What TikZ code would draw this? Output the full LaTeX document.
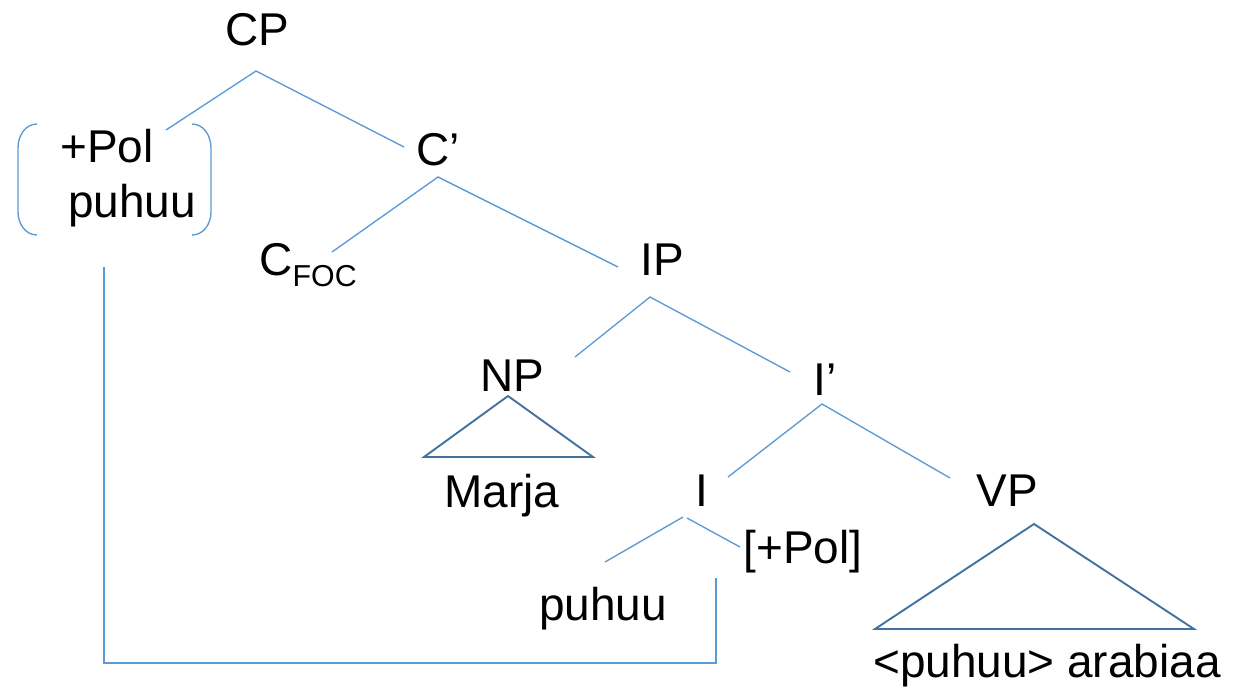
\documentclass[tikz,border=0pt]{standalone}
\usepackage{fontspec}
\setmainfont{Liberation Sans}
\usepackage{tikz}
\usetikzlibrary{calc}
\definecolor{branchblue}{RGB}{91,155,213}
\definecolor{roofblue}{RGB}{65,113,156}

\tikzset{
  lbl/.style={anchor=base, inner sep=0pt, font=\fontsize{17}{20}\selectfont},
  branch/.style={branchblue, line width=0.5pt},
  roof/.style={roofblue, line width=0.7pt, line join=miter},
  move/.style={branchblue, line width=0.6pt}
}

\begin{document}
\begin{tikzpicture}[x=0.013cm, y=-0.013cm]
  \useasboundingbox (0,0) rectangle (1238,691);

  % --- labels ---
  \node[lbl] (cp)     at (257,45)  {CP};
  \node[lbl] (pol)    at (107,162) {+Pol};
  \node[lbl] (puhu1)  at (132,217) {puhuu};
  \node[lbl] (cbar)   at (438,165) {C’};
  \node[lbl, anchor=base west] (cfoc) at (259,275)
    {C{\fontsize{11.2}{13}\selectfont\raisebox{-4.4pt}{FOC}}};
  \node[lbl] (ip)     at (662,275) {IP};
  \node[lbl] (np)     at (512,391) {NP};
  \node[lbl] (ibar)   at (825,395) {I’};
  \node[lbl] (marja)  at (502,507) {Marja};
  \node[lbl] (infl)   at (702,506) {I};
  \node[lbl] (vp)     at (1007,506) {VP};
  \node[lbl] (pol2)   at (803,563) {[+Pol]};
  \node[lbl] (puhu2)  at (603,620) {puhuu};
  \node[lbl] (vpword) at (1047,677) {<puhuu> arabiaa};

  % --- branches ---
  \draw[branch] ($(pol.base)+(59,-32)$) -- ($(cp.base)+(-1,26)$) -- ($(cbar.base)+(-34,-18)$);
  \draw[branch] ($(cfoc.base west)+(73,-23)$) -- ($(cbar.base)+(0,12)$) -- ($(ip.base)+(-44,-8)$);
  \draw[branch] ($(np.base)+(63,-34)$) -- ($(ip.base)+(-12,22)$) -- ($(ibar.base)+(-35,-23)$);
  \draw[branch] ($(infl.base)+(26,-29)$) -- ($(ibar.base)+(-3,9)$) -- ($(vp.base)+(-57,-28)$);
  \draw[branch] ($(puhu2.base)+(2,-58)$) -- ($(infl.base)+(-19,11)$);
  \draw[branch] ($(infl.base)+(-15,12)$) -- ($(pol2.base)+(-63,-16)$);

  % --- triangles ---
  \draw[roof] ($(np.base)+(-4,5)$) -- ($(np.base)+(-88,66)$) -- ($(np.base)+(81,66)$) -- cycle;
  \draw[roof] ($(vp.base)+(27,18)$) -- ($(vp.base)+(-132,123)$) -- ($(vp.base)+(187,123)$) -- cycle;

  % --- feature bracket ---
  \draw[branch] (37,124) to[out=180,in=90] (18,148) -- (18,212) to[out=-90,in=180] (37,235);
  \draw[branch] (192,124) to[out=0,in=90] (211,148) -- (211,212) to[out=-90,in=0] (192,235);

  % --- head movement ---
  \draw[move] ($(puhu1.base)+(-28,50)$) |- ($(puhu2.base)+(113,43)$) -- ($(puhu2.base)+(113,-42)$);
\end{tikzpicture}
\end{document}
